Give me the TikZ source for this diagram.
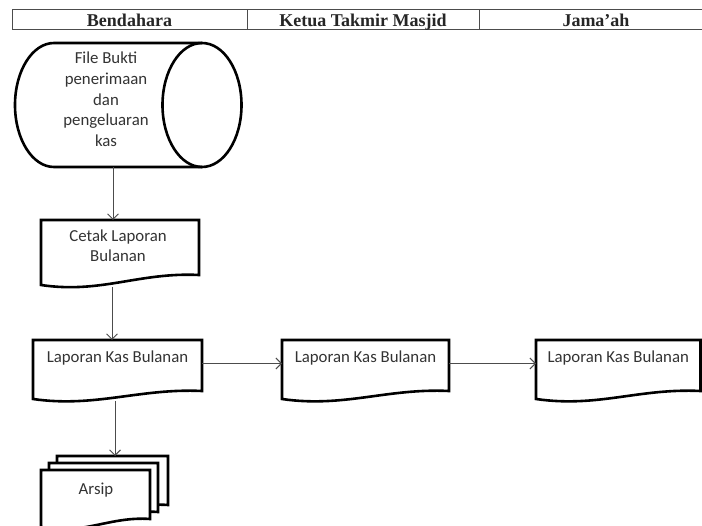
\documentclass[tikz,border=0pt]{standalone}
\usepackage{fontspec}
\setmainfont{Carlito}
\newfontfamily\hdrfont{Liberation Serif}
\usetikzlibrary{arrows.meta,calc}
\newcommand\docpath[4][]{%
  \draw[docline,#1] (#2.north west) -- (#2.north east) -- ([yshift=#3pt]#2.south east)
   .. controls ([xshift=-#4pt,yshift=#3pt+3pt]#2.south east) and ([xshift=#4pt,yshift=-9pt]#2.south west) .. (#2.south west) -- cycle;}
\begin{document}
\begin{tikzpicture}[x=1pt,y=-1pt,
  docline/.style={line width=2.6pt,line join=miter,fill=white},
  box/.style={draw=none,inner sep=0pt,outer sep=0pt},
  txt/.style={text=black!80,font=\fontsize{16.8}{20.8}\selectfont,inner sep=0pt,align=center},
  hdr/.style={font=\hdrfont\bfseries\fontsize{18}{20}\selectfont,inner sep=0pt,anchor=base,text=black!85},
  hline/.style={line width=1pt,draw=black!70},
  arr/.style={line width=0.9pt,draw=black!70,-{Straight Barb[length=5.5pt,width=11pt,line width=0.9pt]}}]
\useasboundingbox[fill=white] (0,0) rectangle (702,526);
% header
\draw[hline] (12,10) -- (702,10) (12,30) -- (702,30) (12,10) -- (12,30) (247,10) -- (247,30) (479,10) -- (479,30);
\node[hdr] (h1) at (129.5,26.5) {Bendahara};
\node[hdr] (h2) at (363,26.5) {Ketua Takmir Masjid};
\node[hdr] (h3) at (596,26.5) {Jama’ah};
% cylinder
\node[box,minimum width=227pt,minimum height=124pt] (cyl) at (128.5,105) {};
\draw[docline] (202,43) -- (54,43) arc[start angle=90,end angle=270,x radius=39pt,y radius=62pt] -- (202,167);
\draw[docline,fill=none] (202,105) ellipse[x radius=39.5pt,y radius=62pt];
\node[txt,anchor=base] (cyltext) at (106,146.7) {File Bukti\\penerimaan\\dan\\pengeluaran\\kas};
% cetak laporan
\node[box,minimum width=158pt,minimum height=65pt] (cetak) at (120,252.5) {};
\docpath{cetak}{10}{60}
\node[txt,anchor=base] (cetaktext) at (118,262) {Cetak Laporan\\Bulanan};
% laporan kas bulanan
\node[box,minimum width=169pt,minimum height=59pt] (d1) at (117.5,369.5) {};
\node[box,minimum width=167pt,minimum height=59pt] (d2) at (365.5,369.5) {};
\node[box,minimum width=164.5pt,minimum height=59pt] (d3) at (618.25,369.5) {};
\docpath{d1}{8}{62}
\docpath{d2}{8}{62}
\docpath{d3}{8}{62}
\node[txt,anchor=base] (t1) at (117.5,362.5) {Laporan Kas Bulanan};
\node[txt,anchor=base] (t2) at (365.5,362.5) {Laporan Kas Bulanan};
\node[txt,anchor=base] (t3) at (618.25,362.5) {Laporan Kas Bulanan};
% arsip
\node[box,minimum width=111pt,minimum height=57pt] (arsB) at (112.5,484.5) {};
\node[box,minimum width=109pt,minimum height=57pt] (arsM) at (103.5,491.5) {};
\node[box,minimum width=109pt,minimum height=57pt] (arsF) at (95.5,498.5) {};
\docpath{arsB}{8}{40}
\docpath{arsM}{8}{40}
\docpath{arsF}{8}{40}
\node[txt] (arsiptext) at (96,490) {Arsip};
% connectors
\coordinate (a1) at (113,0);
\coordinate (a2) at (112,0);
\coordinate (a3) at (115,0);
\draw[arr] (cyl.south -| a1) -- (cetak.north -| a1);
\draw[arr] ([yshift=-2pt]cetak.south -| a2) -- (d1.north -| a2);
\draw[arr] ([yshift=-2pt]d1.south -| a3) -- (arsB.north -| a3);
\draw[arr] ([yshift=6pt]d1.east) -- ([yshift=6pt]d2.west);
\draw[arr] ([yshift=6pt]d2.east) -- ([yshift=6pt]d3.west);
\end{tikzpicture}
\end{document}
